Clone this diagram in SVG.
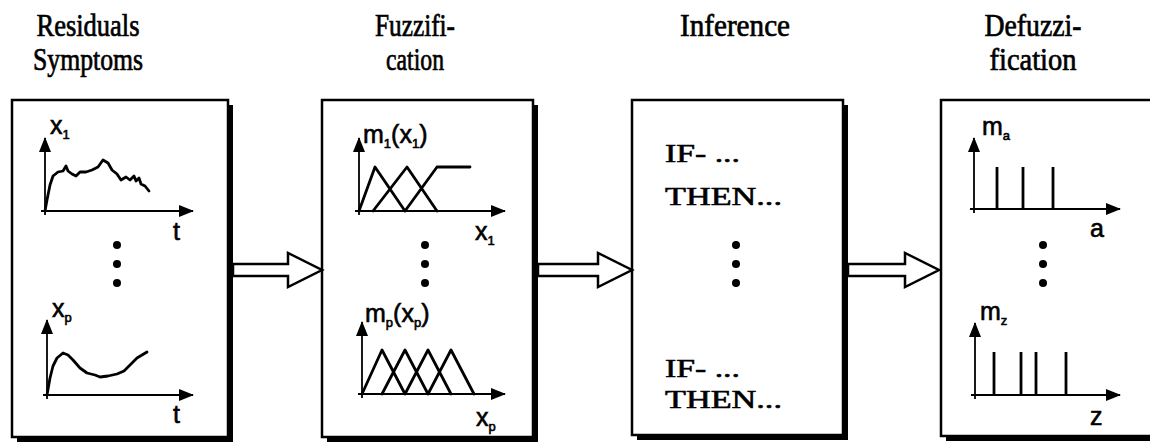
<svg xmlns="http://www.w3.org/2000/svg" width="1150" height="446" viewBox="0 0 1150 446">
<defs>
<marker id="ah" viewBox="0 0 15 12" refX="14" refY="6" markerWidth="15" markerHeight="12" markerUnits="userSpaceOnUse" orient="auto"><path d="M0,0 L15,6 L0,12 Z" fill="#000"/></marker>
</defs>
<style>
.box{fill:#fff;stroke:#000;stroke-width:2.5}
.shadow{fill:#000}
.hdr{font-family:"Liberation Serif","Times New Roman",serif;font-size:32px;text-anchor:middle;fill:#000;stroke:#000;stroke-width:0.7}
.axis{stroke:#000;stroke-width:1.8;fill:none;marker-end:url(#ah)}
.curve{stroke:#000;stroke-width:2.8;fill:none;stroke-linejoin:round;stroke-linecap:round}
.spike{stroke:#000;stroke-width:2.8}
.lbl{font-family:"Liberation Sans",Arial,sans-serif;font-size:25px;fill:#000;stroke:#000;stroke-width:0.6}
.sub{font-size:13px}
.rule{font-family:"Liberation Serif","Times New Roman",serif;font-size:26px;fill:#000;stroke:#000;stroke-width:0.6}
.dot{fill:#000}
.arrow{fill:#fff;stroke:#000;stroke-width:2.5;stroke-linejoin:miter}
</style>
<rect width="1150" height="446" fill="#fff"/>

<g id="node-residuals">
<text class="hdr" x="88" y="36" textLength="103" lengthAdjust="spacingAndGlyphs">Residuals</text>
<text class="hdr" x="88" y="70" textLength="110" lengthAdjust="spacingAndGlyphs">Symptoms</text>
<rect class="shadow" x="17" y="105" width="216" height="337"/>
<rect class="box" x="12" y="100" width="216" height="337"/>
<line class="axis" x1="45" y1="215" x2="45" y2="138"/>
<line class="axis" x1="41" y1="211" x2="193" y2="211"/>
<path class="curve" d="M45,211 L47,200 L50,185 L53,176 L58,172 L63,171 L66,166 L68,171 L72,174 L76,176 L80,172 L86,172 L92,170 L98,167 L103,160 L108,163 L112,170 L117,174 L121,180 L126,177 L130,180 L134,176 L136,181 L139,178 L141,184 L145,186 L149,191"/>
<text class="lbl" x="50" y="134">x<tspan class="sub" dy="5">1</tspan></text>
<text class="lbl" x="173" y="240">t</text>
<circle class="dot" cx="117" cy="245" r="4"/>
<circle class="dot" cx="117" cy="264" r="4"/>
<circle class="dot" cx="117" cy="283" r="4"/>
<line class="axis" x1="47" y1="399" x2="47" y2="320"/>
<line class="axis" x1="43" y1="395" x2="193" y2="395"/>
<path class="curve" d="M47,395 L50,378 L53,366 L57,358 L63,353 L68,355 L73,360 L80,368 L87,373 L95,375 L100,377 L108,376 L117,374 L124,371 L130,365 L137,358 L147,352"/>
<text class="lbl" x="52" y="317">x<tspan class="sub" dy="5">p</tspan></text>
<text class="lbl" x="173" y="423">t</text>
</g>

<g id="node-fuzzification">
<text class="hdr" x="415" y="36" textLength="80" lengthAdjust="spacingAndGlyphs">Fuzzifi-</text>
<text class="hdr" x="415" y="70" textLength="58" lengthAdjust="spacingAndGlyphs">cation</text>
<rect class="shadow" x="327" y="105" width="211" height="337"/>
<rect class="box" x="322" y="100" width="211" height="337"/>
<line class="axis" x1="359" y1="215" x2="359" y2="138"/>
<line class="axis" x1="355" y1="211" x2="505" y2="211"/>
<path class="curve" d="M359,211 L375,167 L405,211 M373,211 L407,167 L437,211 M405,211 L437,167 L470,167"/>
<text class="lbl" x="363" y="143">m<tspan class="sub" dy="5">1</tspan><tspan dy="-5">(x</tspan><tspan class="sub" dy="5">1</tspan><tspan dy="-5">)</tspan></text>
<text class="lbl" x="475" y="240">x<tspan class="sub" dy="5">1</tspan></text>
<circle class="dot" cx="425" cy="245" r="4"/>
<circle class="dot" cx="425" cy="264" r="4"/>
<circle class="dot" cx="425" cy="283" r="4"/>
<line class="axis" x1="362" y1="398" x2="362" y2="322"/>
<line class="axis" x1="358" y1="394" x2="505" y2="394"/>
<path class="curve" d="M362,394 L382,350 L405,394 M382,394 L405,350 L428,394 M405,394 L428,350 L451,394 M428,394 L451,350 L474,394"/>
<text class="lbl" x="365" y="322">m<tspan class="sub" dy="5">p</tspan><tspan dy="-5">(x</tspan><tspan class="sub" dy="5">p</tspan><tspan dy="-5">)</tspan></text>
<text class="lbl" x="476" y="426">x<tspan class="sub" dy="5">p</tspan></text>
</g>

<g id="node-inference">
<text class="hdr" x="735" y="36" textLength="110" lengthAdjust="spacingAndGlyphs">Inference</text>
<rect class="shadow" x="637" y="105" width="211" height="335"/>
<rect class="box" x="632" y="100" width="211" height="335"/>
<text class="rule" x="665" y="162" textLength="75" lengthAdjust="spacingAndGlyphs">IF- ...</text>
<text class="rule" x="665" y="205" textLength="117" lengthAdjust="spacingAndGlyphs">THEN...</text>
<circle class="dot" cx="736" cy="245" r="4"/>
<circle class="dot" cx="736" cy="264" r="4"/>
<circle class="dot" cx="736" cy="283" r="4"/>
<text class="rule" x="665" y="377" textLength="75" lengthAdjust="spacingAndGlyphs">IF- ...</text>
<text class="rule" x="665" y="408" textLength="117" lengthAdjust="spacingAndGlyphs">THEN...</text>
</g>

<g id="node-defuzzification">
<text class="hdr" x="1033" y="36" textLength="97" lengthAdjust="spacingAndGlyphs">Defuzzi-</text>
<text class="hdr" x="1033" y="70" textLength="87" lengthAdjust="spacingAndGlyphs">fication</text>
<rect class="shadow" x="946" y="105" width="240" height="336"/>
<rect class="box" x="941" y="100" width="240" height="336"/>
<line class="axis" x1="974" y1="213" x2="974" y2="138"/>
<line class="axis" x1="970" y1="209" x2="1120" y2="209"/>
<line class="spike" x1="997" y1="209" x2="997" y2="167"/>
<line class="spike" x1="1023" y1="209" x2="1023" y2="167"/>
<line class="spike" x1="1053" y1="209" x2="1053" y2="167"/>
<text class="lbl" x="982" y="135">m<tspan class="sub" dy="5">a</tspan></text>
<text class="lbl" x="1090" y="237">a</text>
<circle class="dot" cx="1043" cy="245" r="4"/>
<circle class="dot" cx="1043" cy="264" r="4"/>
<circle class="dot" cx="1043" cy="283" r="4"/>
<line class="axis" x1="975" y1="399" x2="975" y2="323"/>
<line class="axis" x1="971" y1="395" x2="1120" y2="395"/>
<line class="spike" x1="994" y1="395" x2="994" y2="352"/>
<line class="spike" x1="1021" y1="395" x2="1021" y2="352"/>
<line class="spike" x1="1036" y1="395" x2="1036" y2="352"/>
<line class="spike" x1="1066" y1="395" x2="1066" y2="352"/>
<text class="lbl" x="980" y="320">m<tspan class="sub" dy="5">z</tspan></text>
<text class="lbl" x="1090" y="425">z</text>
</g>

<g id="connectors">
<polygon class="arrow" points="233,264 288,264 288,253 322,270 288,287 288,276 233,276"/>
<polygon class="arrow" points="538,264 598,264 598,253 632,270 598,287 598,276 538,276"/>
<polygon class="arrow" points="848,264 905,264 905,253 939,270 905,287 905,276 848,276"/>
</g>
</svg>
